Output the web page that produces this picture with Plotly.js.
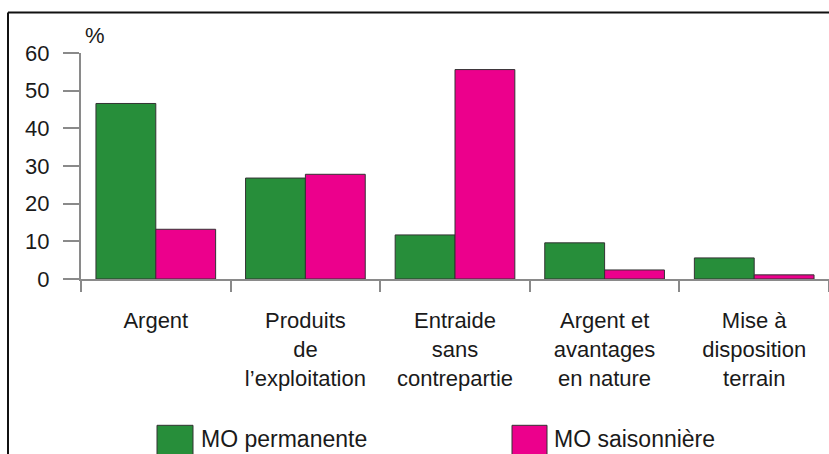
<!DOCTYPE html>
<html>
<head>
<meta charset="utf-8">
<script src="https://cdn.plot.ly/plotly-3.0.1.min.js"></script>
<style>html,body{margin:0;padding:0;background:#fff;}#chart{width:829px;height:454px;}</style>
</head>
<body>
<div id="chart"></div>
<script>
const categories = ["Argent", "Produits<br>de<br>l’exploitation", "Entraide<br>sans<br>contrepartie", "Argent et<br>avantages<br>en nature", "Mise à<br>disposition<br>terrain"];
const seriesNames = ["MO permanente", "MO saisonnière"];
const permanente = [46.6, 26.8, 11.7, 9.6, 5.6];
const saisonniere = [13.2, 27.8, 55.6, 2.4, 1.1];
const yTicks = [0, 10, 20, 30, 40, 50, 60];
const unitLabel = "%";

const GREEN = "#278E3A", PINK = "#EC008C", GREY = "#8a8a8a", TXT = "#1a1a1a";
const FONT = "Liberation Sans, Arial, sans-serif";

const W = 829, H = 454, L = 81, T = 52.7, B = 174.7, R = 0;
const pw = W - L - R, ph = H - T - B;
const px = x => (x - L) / pw;
const py = y => (H - B - y) / ph;

const traces = [
  {type: "bar", name: seriesNames[0], x: categories, y: permanente,
   marker: {color: GREEN, line: {color: "#333", width: 1}}, showlegend: false, hoverinfo: "none"},
  {type: "bar", name: seriesNames[1], x: categories, y: saisonniere,
   marker: {color: PINK, line: {color: "#333", width: 1}}, showlegend: false, hoverinfo: "none"}
];

const legendSwatches = [
  {color: GREEN, x0: 157, x1: 193, tx: 200, text: seriesNames[0]},
  {color: PINK, x0: 512, x1: 547, tx: 553, text: seriesNames[1]}
];

const shapes = [
  {type: "line", xref: "paper", yref: "paper", x0: px(8), x1: px(832), y0: py(12), y1: py(12), line: {color: "#111", width: 2}},
  {type: "line", xref: "paper", yref: "paper", x0: px(8), x1: px(8), y0: py(12), y1: py(460), line: {color: "#111", width: 2}}
];
const annotations = [
  {xref: "paper", yref: "paper", x: px(83), y: py(35), xanchor: "left", yanchor: "middle", text: unitLabel, showarrow: false, font: {family: FONT, size: 22, color: TXT}}
];
legendSwatches.forEach(s => {
  shapes.push({type: "rect", xref: "paper", yref: "paper", x0: px(s.x0), x1: px(s.x1), y0: py(426), y1: py(458), fillcolor: s.color, line: {color: "#333", width: 1}});
  annotations.push({xref: "paper", yref: "paper", x: px(s.tx), y: py(454), xanchor: "left", yanchor: "bottom", borderpad: 0, text: s.text, showarrow: false, font: {family: FONT, size: 23, color: TXT}});
});

const layout = {
  width: W, height: H,
  margin: {l: L, r: R, t: T, b: B, pad: 0},
  paper_bgcolor: "#fff", plot_bgcolor: "#fff",
  barmode: "group", bargap: 0.2, bargroupgap: 0,
  showlegend: false,
  font: {family: FONT, color: TXT},
  xaxis: {
    type: "category", range: [-0.5, 4.5], showgrid: false, zeroline: false,
    showline: true, linecolor: GREY, linewidth: 2,
    ticks: "outside", tickson: "boundaries", ticklen: 11, tickwidth: 2, tickcolor: GREY,
    tickfont: {family: FONT, size: 22, color: TXT}, ticklabelstandoff: 21, fixedrange: true
  },
  yaxis: {
    range: [0, 60], tickvals: yTicks, showgrid: false, zeroline: false,
    showline: true, linecolor: GREY, linewidth: 2,
    ticks: "outside", ticklen: 16, tickwidth: 2, tickcolor: GREY,
    tickfont: {family: FONT, size: 22, color: TXT}, ticklabelstandoff: 9, fixedrange: true
  },
  shapes: shapes,
  annotations: annotations
};

Plotly.newPlot("chart", traces, layout, {staticPlot: true, displayModeBar: false});
</script>
</body>
</html>
